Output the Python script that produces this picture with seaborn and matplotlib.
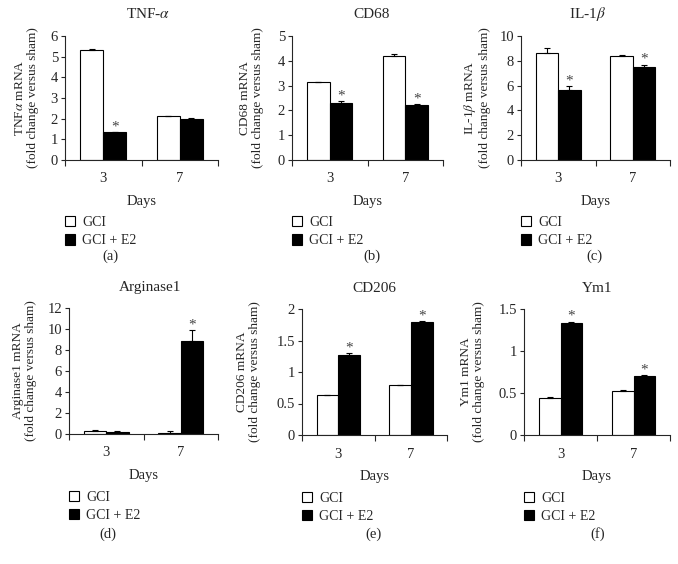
import numpy as np
import pandas as pd
import matplotlib
matplotlib.use('Agg')
import matplotlib.pyplot as plt
import seaborn as sns

sns.set_style('ticks')
plt.rcParams['font.family'] = ['Liberation Serif', 'DejaVu Serif']
plt.rcParams['mathtext.fontset'] = 'stix'
plt.rcParams['font.size'] = 10

days = ['3', '7']
groups = ['GCI', 'GCI + E2']

# values (GCI, GCI + E2) for day 3 and day 7
tnf_gci = [5.33, 2.12]
tnf_gci_err = [0.05, 0.02]
tnf_e2 = [1.35, 2.00]
tnf_e2_err = [0.02, 0.02]
tnf_star = [True, False]

cd68_gci = [3.13, 4.20]
cd68_gci_err = [0.02, 0.07]
cd68_e2 = [2.30, 2.20]
cd68_e2_err = [0.07, 0.04]
cd68_star = [True, True]

il1b_gci = [8.65, 8.35]
il1b_gci_err = [0.35, 0.12]
il1b_e2 = [5.65, 7.50]
il1b_e2_err = [0.30, 0.20]
il1b_star = [True, True]

arg_gci = [0.25, 0.10]
arg_gci_err = [0.10, 0.20]
arg_e2 = [0.20, 8.90]
arg_e2_err = [0.10, 1.00]
arg_star = [False, True]

cd206_gci = [0.63, 0.79]
cd206_gci_err = [0.005, 0.01]
cd206_e2 = [1.27, 1.79]
cd206_e2_err = [0.03, 0.02]
cd206_star = [True, True]

ym1_gci = [0.44, 0.52]
ym1_gci_err = [0.01, 0.01]
ym1_e2 = [1.33, 0.70]
ym1_e2_err = [0.02, 0.01]
ym1_star = [True, True]

panels = [
    dict(title='TNF-$\\alpha$', ylabel='TNF$\\alpha$ mRNA\n(fold change versus sham)',
         gci=tnf_gci, gci_err=tnf_gci_err, e2=tnf_e2, e2_err=tnf_e2_err, star=tnf_star,
         ymax=6, step=1, tag='(a)', rect=(65, 218, 36, 160), ylx=-0.25,
         title_xy=(148, 14), tag_xy=(110, 256)),
    dict(title='CD68', ylabel='CD68 mRNA\n(fold change versus sham)',
         gci=cd68_gci, gci_err=cd68_gci_err, e2=cd68_e2, e2_err=cd68_e2_err, star=cd68_star,
         ymax=5, step=1, tag='(b)', rect=(292, 443, 36, 160), ylx=-0.27,
         title_xy=(372, 14), tag_xy=(372, 256)),
    dict(title='IL-1$\\beta$', ylabel='IL-1$\\beta$ mRNA\n(fold change versus sham)',
         gci=il1b_gci, gci_err=il1b_gci_err, e2=il1b_e2, e2_err=il1b_e2_err, star=il1b_star,
         ymax=10, step=2, tag='(c)', rect=(521, 670, 36, 160), ylx=-0.30,
         title_xy=(587, 14), tag_xy=(594, 256)),
    dict(title='Arginase1', ylabel='Arginase1 mRNA\n(fold change versus sham)',
         gci=arg_gci, gci_err=arg_gci_err, e2=arg_e2, e2_err=arg_e2_err, star=arg_star,
         ymax=12, step=2, tag='(d)', rect=(69, 218, 308, 434), ylx=-0.30,
         title_xy=(150, 288), tag_xy=(108, 534)),
    dict(title='CD206', ylabel='CD206 mRNA\n(fold change versus sham)',
         gci=cd206_gci, gci_err=cd206_gci_err, e2=cd206_e2, e2_err=cd206_e2_err, star=cd206_star,
         ymax=2, step=0.5, tag='(e)', rect=(302, 447, 309, 435), ylx=-0.37,
         title_xy=(374, 288), tag_xy=(374, 534)),
    dict(title='Ym1', ylabel='Ym1 mRNA\n(fold change versus sham)',
         gci=ym1_gci, gci_err=ym1_gci_err, e2=ym1_e2, e2_err=ym1_e2_err, star=ym1_star,
         ymax=1.5, step=0.5, tag='(f)', rect=(524, 670, 309, 435), ylx=-0.35,
         title_xy=(597, 288), tag_xy=(598, 534)),
]

W, H = 678, 564
fig = plt.figure(figsize=(W / 100, H / 100), dpi=100)


def fmt(v):
    return ('%g' % v)


for p in panels:
    l, r, t, b = p['rect']
    ax = fig.add_axes([l / W, 1 - b / H, (r - l) / W, (b - t) / H])
    df = pd.DataFrame({
        'day': days * 2,
        'group': [groups[0]] * 2 + [groups[1]] * 2,
        'value': p['gci'] + p['e2'],
    })
    sns.barplot(data=df, x='day', y='value', hue='group', order=days, hue_order=groups,
                palette={'GCI': 'white', 'GCI + E2': 'black'}, edgecolor='black',
                linewidth=0.8, width=0.6, errorbar=None, ax=ax, saturation=1)
    for cont, err in zip(ax.containers, [p['gci_err'], p['e2_err']]):
        xs = [bar.get_x() + bar.get_width() / 2 for bar in cont]
        ys = [bar.get_height() for bar in cont]
        ax.errorbar(xs, ys, yerr=[np.zeros(len(err)), err], fmt='none', ecolor='black',
                    elinewidth=0.8, capsize=2, capthick=0.8)
    # significance stars on GCI + E2 bars
    cont = ax.containers[1]
    for bar, e, s in zip(cont, p['e2_err'], p['star']):
        if s:
            ax.annotate('*', (bar.get_x() + bar.get_width() / 2, bar.get_height() + e),
                        xytext=(0, -1), textcoords='offset points', ha='center', va='bottom',
                        fontsize=11, color='#444444')
    ax.set_xlim(-0.5, 1.5)
    ax.set_ylim(0, p['ymax'])
    ticks = np.arange(0, p['ymax'] + p['step'] / 2, p['step'])
    ax.set_yticks(ticks)
    ax.set_yticklabels([fmt(v) for v in ticks])
    ax.set_xticks([0, 1])
    ax.set_xticklabels(days)
    ax.set_xticks([-0.5, 0.5, 1.5], minor=True)
    ax.tick_params(axis='both', which='major', labelsize=10.5)
    ax.tick_params(axis='x', which='major', length=0, pad=9)
    ax.tick_params(axis='x', which='minor', length=4, width=0.8, direction='out')
    ax.tick_params(axis='y', length=3, width=0.8, pad=2)
    sns.despine(ax=ax)
    for sp in ['left', 'bottom']:
        ax.spines[sp].set_linewidth(0.8)
    ax.set_xlabel('Days', labelpad=7, fontsize=10.5)
    ax.set_ylabel(p['ylabel'], va='center', linespacing=1.1, fontsize=9.6)
    ax.yaxis.set_label_coords(p['ylx'], 0.5)
    ax.legend(loc='upper left', bbox_to_anchor=(0.0, -0.45), frameon=False,
              handlelength=0.75, handleheight=0.75, handletextpad=0.5,
              labelspacing=0.4, borderaxespad=0, borderpad=0, fontsize=10)
    fig.text(p['title_xy'][0] / W, 1 - p['title_xy'][1] / H, p['title'],
             ha='center', va='center', fontsize=11)
    fig.text(p['tag_xy'][0] / W, 1 - p['tag_xy'][1] / H, p['tag'],
             ha='center', va='center', fontsize=10.5)

fig.savefig('out.png', dpi=100)
